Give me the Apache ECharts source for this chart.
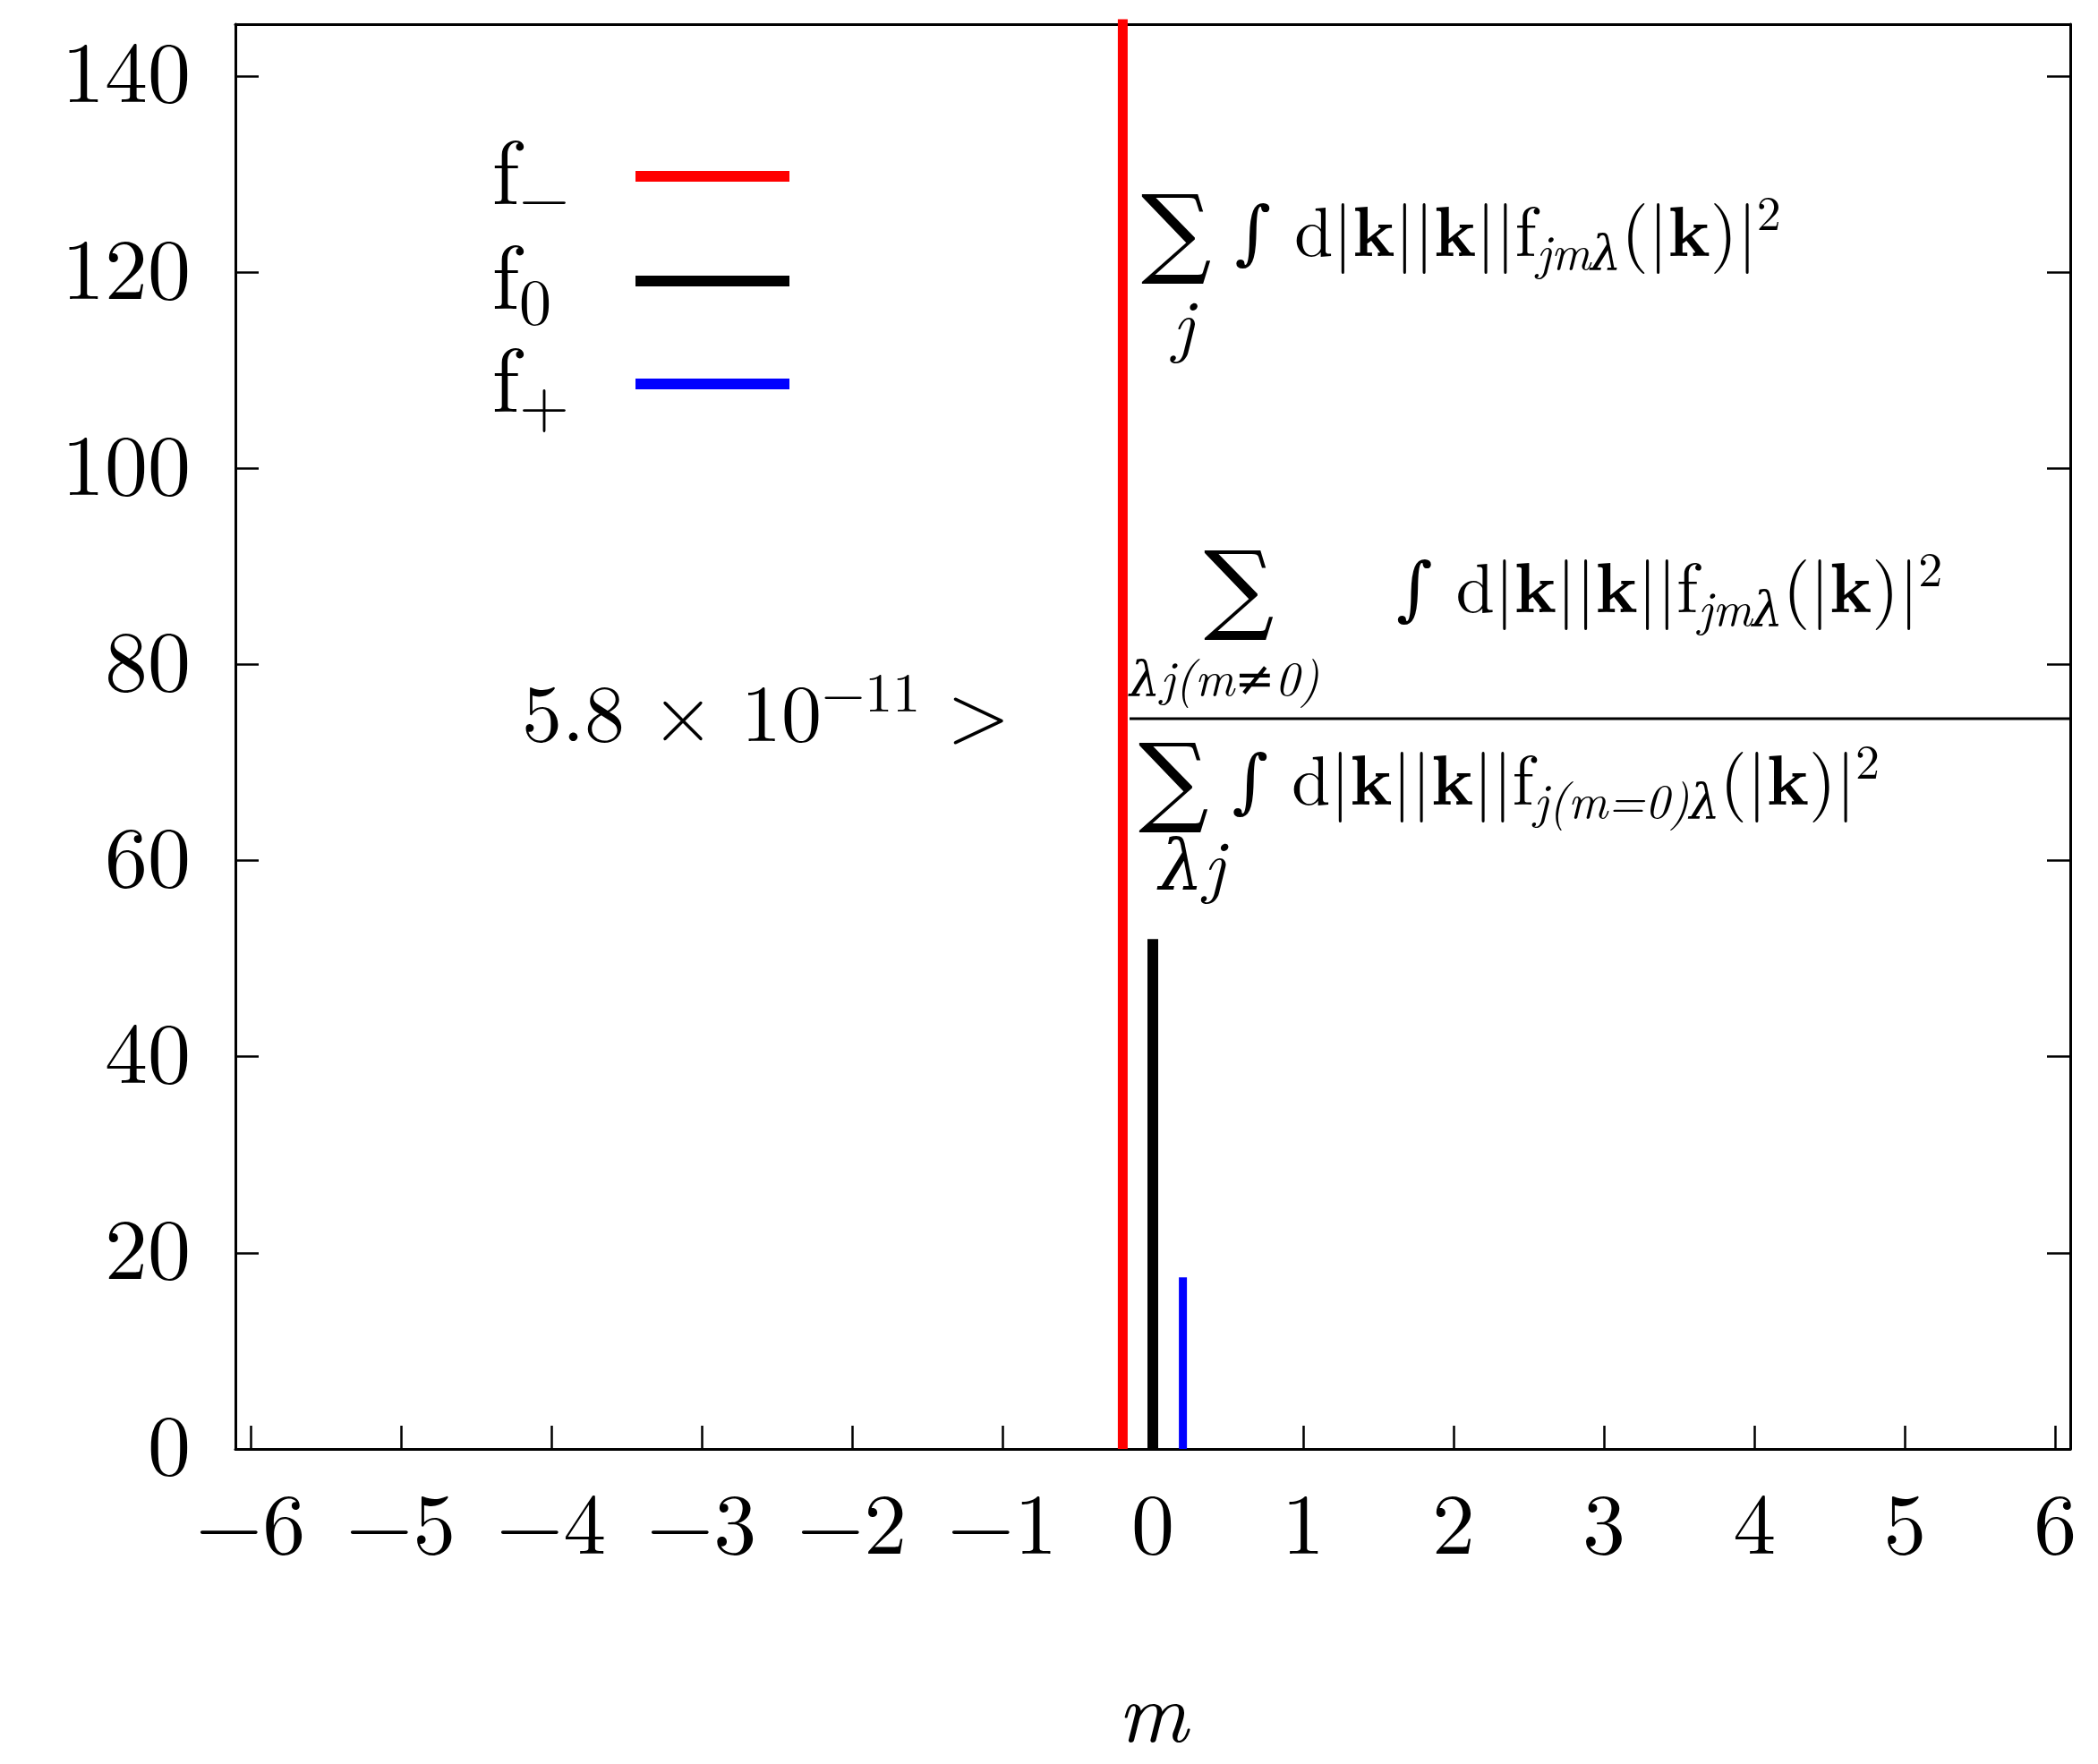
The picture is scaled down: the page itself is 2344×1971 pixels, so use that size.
<!DOCTYPE html>
<html>
<head>
<meta charset="utf-8">
<script src="https://cdn.jsdelivr.net/npm/echarts@6/dist/echarts.min.js"></script>
<style>html,body{margin:0;padding:0;background:#fff}#c{width:2344px;height:1971px}</style>
</head>
<body>
<div id="c"></div>
<script>
// data
const seriesNames = ['f₋', 'f₀', 'f₊'];
const positions = [-0.2, 0, 0.2];
const heights = [150, 52, 17.5];
const colors = ['#ff0000', '#000000', '#0000ff'];
const widths = [11, 12, 9];
const xTicks = [-6, -5, -4, -3, -2, -1, 0, 1, 2, 3, 4, 5, 6];
const yTicks = [0, 20, 40, 60, 80, 100, 120, 140];

const F = 'Latin Modern Roman, DejaVu Serif, serif';
const chart = echarts.init(document.getElementById('c'));

const line = { show: true, onZero: false, lineStyle: { color: '#000', width: 3 } };
const tick = vals => ({ show: true, inside: true, length: 26, customValues: vals, lineStyle: { color: '#000', width: 2.5 } });

const series = seriesNames.map((n, i) => ({
  name: n,
  type: 'line',
  symbol: 'none',
  clip: true,
  lineStyle: { color: colors[i], width: widths[i] },
  data: [[positions[i], 0], [positions[i], heights[i]]]
}));

const fm = { fontFamily: F, fontSize: 78, color: '#000' };
const rich = {
  n: fm,
  s: Object.assign({}, fm, { fontSize: 110 }),
  b: Object.assign({}, fm, { fontWeight: 'bold' }),
  i: Object.assign({}, fm, { fontStyle: 'italic' }),
  sub: Object.assign({}, fm, { fontSize: 54, fontStyle: 'italic', padding: [44, 0, 0, 0] }),
  lo: Object.assign({}, fm, { fontSize: 54, fontStyle: 'italic' }),
  sup: Object.assign({}, fm, { fontSize: 54, padding: [0, 0, 44, 0] }),
  big: Object.assign({}, fm, { fontSize: 90 }),
  bsup: Object.assign({}, fm, { fontSize: 62, padding: [0, 0, 48, 0] })
};
const expr = sub => '{n|∫ d|}{b|k}{n|||}{b|k}{n|||f}{sub|' + sub + '}{n|(|}{b|k}{n|)|}{sup|2}';

function txt(x, y, text) {
  return { type: 'text', x: x, y: y, style: { text: text, rich: rich, font: '78px ' + F, fill: '#000', verticalAlign: 'middle' } };
}

const graphic = [];
// legend
seriesNames.forEach((n, i) => {
  const y = [197, 314, 429][i];
  graphic.push({ type: 'text', x: 580, y: y, style: { text: 'f', font: '100px ' + F, fill: '#000', align: 'right', verticalAlign: 'middle' } });
  graphic.push({ type: 'text', x: 580, y: y + 26, style: { text: ['−', '0', '+'][i], font: '72px ' + F, fill: '#000', align: 'left', verticalAlign: 'middle' } });
  graphic.push({ type: 'line', shape: { x1: 710, y1: y, x2: 882, y2: y }, style: { stroke: colors[i], lineWidth: 12 } });
});
// formula 1
graphic.push(txt(1275, 262, '{s|∑} ' + expr('jmλ')));
graphic.push(txt(1310, 366, '{i|j}'));
// formula 2
graphic.push(txt(583, 800, '{big|5.8 × 10}{bsup|−11}{big| >}'));
graphic.push(txt(1345, 660, '{s|∑}'));
graphic.push(txt(1262, 760, '{lo|λj(m≠0)}'));
graphic.push(txt(1560, 660, expr('jmλ')));
graphic.push({ type: 'line', shape: { x1: 1262, y1: 803, x2: 2313, y2: 803 }, style: { stroke: '#000', lineWidth: 3 } });
graphic.push(txt(1272, 875, '{s|∑} ' + expr('j(m=0)λ')));
graphic.push(txt(1295, 970, '{i|λj}'));

chart.setOption({
  animation: false,
  backgroundColor: '#fff',
  grid: { left: 263, right: 31, top: 27, bottom: 352 },
  xAxis: [
    { type: 'value', min: -6.1, max: 6.1, name: 'm', nameLocation: 'middle', nameGap: 250,
      nameTextStyle: { fontFamily: F, fontSize: 96, fontStyle: 'italic', color: '#000' },
      axisLine: line, splitLine: { show: false }, axisTick: tick(xTicks),
      axisLabel: { fontFamily: F, fontSize: 96, color: '#000', margin: 40,
        customValues: xTicks, formatter: v => String(v).replace('-', '−') } },
    { type: 'value', position: 'top', min: -6.1, max: 6.1, axisLine: line, splitLine: { show: false },
      axisLabel: { show: false }, axisTick: { show: false } }
  ],
  yAxis: [
    { type: 'value', min: 0, max: 145.3, axisLine: line, splitLine: { show: false }, axisTick: tick(yTicks),
      axisLabel: { fontFamily: F, fontSize: 96, color: '#000', margin: 50, customValues: yTicks } },
    { type: 'value', position: 'right', min: 0, max: 145.3, axisLine: line, splitLine: { show: false },
      axisLabel: { show: false }, axisTick: tick(yTicks) }
  ],
  series: series,
  graphic: graphic
});
</script>
</body>
</html>
